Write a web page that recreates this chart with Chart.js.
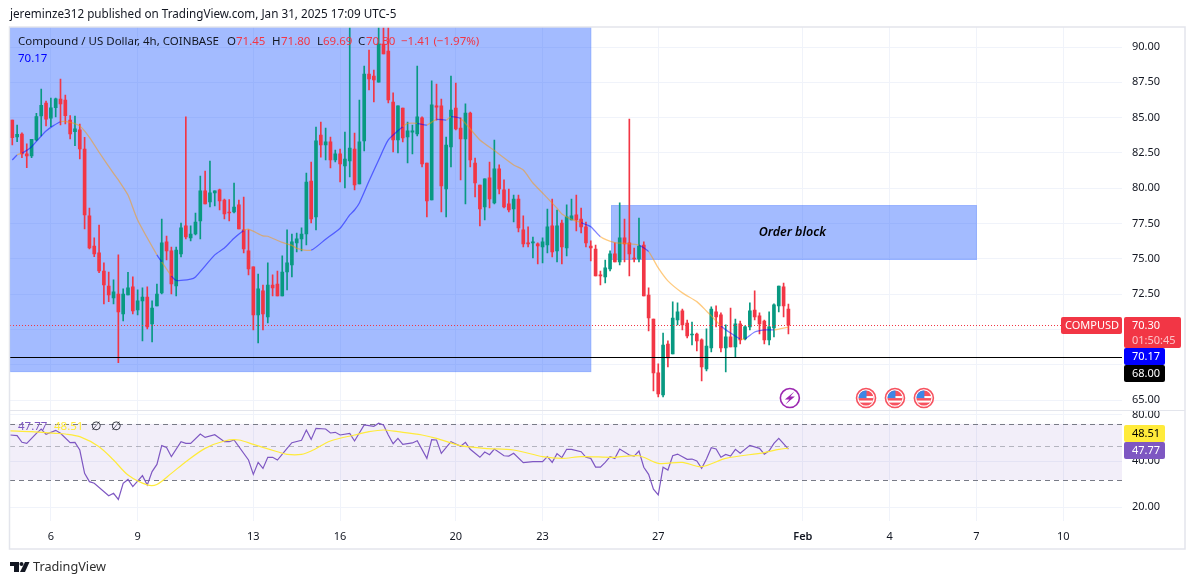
<!DOCTYPE html>
<html lang="en">
<head>
<meta charset="utf-8">
<title>COMPUSD</title>
<script src="https://cdn.jsdelivr.net/npm/chart.js"></script>
<style>
  html, body { margin: 0; padding: 0; background: #fff; }
  canvas { display: block; }
</style>
</head>
<body>
<canvas id="chart" width="1195" height="585"></canvas>
<script>
// 4h candles
const opens = [
  84.83,83.63,83.84,82.43,82.29,83.42,85.12,86.04,84.97,85.70,
  86.32,86.25,84.83,84.01,84.13,82.78,78.04,75.91,75.42,74.14,
  73.08,72.23,72.51,71.10,72.44,73.01,71.38,72.02,72.30,70.39,
  71.67,72.59,76.20,75.56,73.08,75.35,77.33,76.48,76.76,77.68,
  79.81,79.03,79.67,79.88,79.17,78.32,78.32,78.82,77.05,75.56,
  74.43,71.03,72.73,70.89,73.15,73.22,72.37,74.07,74.57,76.13,
  76.41,76.76,80.51,77.97,83.77,83.06,83.28,82.00,82.43,81.58,
  81.93,82.78,80.30,83.35,88.09,87.95,87.52,90.21,89.72,86.11,
  83.42,85.68,83.63,83.98,83.84,84.98,81.79,79.17,85.83,85.83,
  79.95,82.92,85.68,84.27,83.49,85.33,81.79,80.23,78.67,80.73,
  78.96,81.37,79.88,78.89,78.53,79.24,77.05,76.13,76.13,76.06,
  75.84,75.98,77.33,75.56,77.54,75.77,77.75,78.11,77.82,77.26,
  75.91,75.70,73.86,73.72,74.28,75.35,74.78,76.48,76.13,75.06,
  74.99,75.98,72.44,70.74,66.92,65.36,68.97,68.27,70.67,71.31,
  70.46,69.61,69.68,69.26,67.20,68.69,71.24,71.03,68.69,69.47,
  68.76,70.39,69.33,70.18,71.38,70.96,70.60,69.26,70.11,71.67,
  73.01,71.45
];
const closes = [
  83.58,83.82,82.43,82.29,83.47,85.07,85.87,84.90,85.70,86.34,
  85.97,85.14,83.84,84.20,82.78,78.11,75.77,75.35,74.14,73.15,
  72.44,72.66,71.24,72.51,72.94,71.31,72.02,72.30,70.18,71.52,
  72.51,76.13,75.56,73.22,75.63,77.19,76.55,76.76,77.61,79.81,
  78.89,79.67,79.81,79.10,78.18,78.25,78.67,77.12,75.70,74.28,
  71.03,72.87,71.10,73.15,72.94,72.37,74.07,74.71,76.20,76.41,
  76.76,80.44,77.82,83.35,83.06,83.28,82.00,82.43,81.72,82.07,
  82.85,80.23,83.28,88.09,87.74,87.67,90.21,89.51,86.25,83.42,
  85.83,83.56,84.06,84.06,85.05,81.72,79.10,85.90,85.75,80.16,
  83.06,85.54,84.20,83.49,85.33,82.00,80.37,78.53,80.66,79.24,
  81.37,79.95,78.67,78.46,79.24,77.19,76.06,76.06,76.20,75.91,
  76.20,77.26,75.49,77.33,75.84,77.97,78.04,77.75,77.26,76.13,
  75.77,73.79,73.79,74.36,75.35,74.78,76.48,76.06,75.35,74.99,
  75.91,72.37,70.81,66.92,65.43,68.90,67.98,70.81,71.24,70.32,
  69.54,69.68,69.19,67.35,68.83,71.45,70.89,68.69,69.47,68.76,
  70.39,69.26,70.18,71.31,70.89,70.39,69.26,70.18,71.74,73.08,
  71.67,70.30
];
const highs = [
  84.83,84.48,83.93,83.14,83.47,85.31,87.03,86.18,86.39,86.39,
  87.74,86.60,85.14,85.12,84.55,83.61,78.60,76.48,77.40,74.71,
  74.07,73.51,75.28,72.87,74.05,73.72,72.80,72.94,73.01,72.02,
  73.22,77.82,76.62,75.84,75.84,77.54,85.05,77.33,78.25,80.87,
  81.22,81.93,79.81,79.95,79.24,79.20,80.37,79.17,79.38,77.05,
  74.43,73.93,73.15,74.71,73.86,74.14,75.21,77.05,76.76,76.83,
  77.19,81.08,81.86,84.34,84.69,84.27,83.63,82.71,82.78,83.98,
  92,83.91,86.25,88.66,89.79,88.37,92,92,92,86.75,
  85.83,85.68,84.69,84.48,88.66,85.05,81.79,87.60,87.38,86.32,
  83.63,87.95,87.45,84.98,85.97,85.40,82.14,80.23,80.66,81.86,
  83.42,81.65,80.59,79.95,79.52,79.52,78.04,77.26,76.55,76.13,
  76.48,78.53,79.24,78.46,77.75,78.82,79.24,79.52,78.60,77.61,
  76.27,75.98,74.14,74.92,75.56,76.13,78.96,77.82,84.90,75.77,
  77.89,76.20,72.94,70.74,67.56,69.75,69.19,71.95,71.88,71.45,
  70.67,70.53,69.75,69.33,70.04,71.60,71.67,71.17,70.32,71.52,
  70.74,70.60,70.25,71.88,72.73,71.17,70.67,71.24,71.81,73.08,
  73.29,71.80
];
const lows = [
  83.06,83.30,82.17,81.46,82.17,83.35,83.70,84.41,84.36,85.05,
  84.48,84.55,83.49,83.01,82.07,77.12,75.70,75.16,74.02,71.81,
  71.97,71.81,67.65,70.60,72.44,71.10,71.03,69.19,70.04,69.12,
  71.67,72.51,74.92,72.51,72.37,75.13,76.41,76.27,76.69,76.41,
  78.89,78.67,78.74,78.46,77.82,77.68,78.25,77.12,75.42,73.86,
  69.97,69.05,69.97,70.46,72.37,72.37,72.37,72.80,73.72,75.49,
  75.56,75.98,77.54,77.05,82.21,82.00,81.44,81.86,80.44,80.02,
  80.80,79.88,80.30,82.64,86.96,86.11,87.52,89.51,86.04,82.57,
  82.50,83.28,81.79,82.43,83.70,81.51,77.97,79.17,84.83,78.32,
  77.97,81.51,84.13,80.59,78.89,81.51,79.38,77.33,77.75,78.60,
  78.89,79.60,78.60,78.32,77.61,76.90,75.84,75.84,75.06,74.64,
  74.71,75.42,75.13,74.78,74.64,75.21,77.75,76.97,76.83,75.84,
  74.85,73.79,73.15,73.29,74.14,74.78,74.57,74.78,73.79,74.78,
  74.78,72.37,69.90,65.65,65.22,65.22,67.35,68.27,70.32,69.97,
  69.40,68.90,68.48,66.36,67.06,68.41,70.18,68.41,67.00,68.76,
  68.05,68.97,69.26,69.97,70.67,69.68,68.97,68.90,69.47,71.24,
  70.89,69.69
];

// moving average: bar index, value, and which side of price it is on (b blue, o orange)
const maBars = [0,1,2,4,7,10,12,14,16,18,21,22,24,26,30,31,33,34,37,38,42,44,46,48,49,52,53,56,58,59,62,65,68,70,71,72,74,76,78,81,82,84,86,88,90,91,93,97,100,104,106,108,110,113,114,116,118,120,122,125,127,130,132,134,136,139,142,144,145,147,149,151,152,154,156,158,161];
const maValues = [82.00,82.36,82.48,82.94,84.06,84.71,84.67,84.41,83.61,82.55,81.06,80.59,79.52,77.75,75.28,74.78,73.79,73.47,73.56,73.72,75.28,75.77,76.46,77.00,77.10,76.62,76.60,76.16,75.96,75.75,75.61,76.39,77.17,78.11,78.46,78.96,80.51,82.00,83.42,84.36,84.59,84.60,84.48,84.88,84.83,85.07,84.94,83.42,82.67,81.65,81.29,80.37,79.66,78.58,78.18,77.80,77.56,77.28,76.57,76.15,76.10,75.98,75.51,74.36,73.44,72.59,71.97,71.31,70.96,70.25,69.75,69.33,69.33,69.82,69.97,69.97,70.17];
const maSides = "bobbbooooooooobobbbbbbbooooooobbbbbbbbbooboboboooooooooobbooobooooooobbobbbobb";

// RSI and its smoothing
const rsiBars = [-0.4,1,2,3,5,6,7,9,10,12,13,14,15,16,17,20,21,22,23,24,25,27,28,29,30,31,32,33,35,36,37,39,40,42,44,45,46,49,50,51,52,53,54,55,57,58,60,61,62,63,65,66,67,68,70,71,73,75,76,77,78,79,80,81,83,84,86,87,88,89,91,93,94,95,97,98,99,100,102,103,104,106,108,110,111,112,113,114,115,116,118,119,120,121,122,123,124,125,126,128,129,130,131,132,133,134,135,136,137,138,140,141,142,143,144,145,146,147,148,149,150,151,153,155,156,157,158,159,161];
const rsiValues = [59.2,58.6,53.0,52.2,60.7,64.8,59.8,63.5,60.7,52.7,53.0,47.2,33.2,29.3,28.6,23.7,24.6,22.4,28.6,30.3,27.2,32.1,27.9,34.1,38.0,50.4,49.1,42.7,53.5,52.2,52.2,60.1,57.1,59.5,53.5,53.5,54.9,40.6,32.7,39.2,35.8,42.3,42.3,40.6,48.4,52.7,54.6,63.8,55.4,65.4,64.8,61.0,61.6,59.2,60.7,54.1,68.8,67.4,70.6,68.8,59.2,51.9,56.3,51.4,52.5,54.3,41.6,55.2,54.9,44.9,53.5,49.9,53.0,47.7,42.3,45.8,44.0,47.9,43.3,43.1,44.9,39.0,39.6,39.6,42.7,39.2,44.7,42.1,47.7,47.7,46.0,42.3,41.6,36.5,36.5,39.2,42.7,41.6,47.9,43.8,43.1,46.5,36.4,32.7,26.2,24.0,36.4,34.9,43.3,44.4,41.0,41.2,40.0,35.8,41.2,48.9,47.9,42.3,44.2,43.1,47.7,44.9,50.6,48.4,44.4,46.7,52.2,56.3,47.77];
const rsiMaBars = [-0.4,4,9,11,14,18,21,24,28,30,33,36,40,44,47,50,55,57,60,62,66,71,74,77,80,85,88,93,98,104,110,114,118,125,130,134,139,143,148,156,159,161];
const rsiMaValues = [62.9,62.2,60.7,60.1,57.7,49.6,40.6,32.4,27.9,28.1,33.2,39.6,48.4,54.1,54.9,51.4,46.0,44.2,44.2,46.5,54.1,59.2,62.2,63.8,62.2,59.2,56.3,50.4,48.4,47.2,42.7,41.6,42.7,42.3,43.3,38.6,39.2,36.7,41.6,45.4,47.7,48.51];

// ticks
const priceTicks = [90,87.5,85,82.5,80,77.5,75,72.5,70,67.5,65];
const priceHidden = [70,67.5];   // sit behind the price tags
const rsiTicks = [80,40,20];
const timeBars = [8,26,50,68,92,110,134,164,182,200,218];
const timeLabels = ["6","9","13","16","20","23","27","Feb","4","7","10"];

// drawn zones and levels
const demandZone = {fromBar:-0.48, toBar:120.1, top:91.42, bottom:66.98};
const orderBlock = {fromBar:124.2, toBar:200.1, top:78.81, bottom:74.92, label:"Order block", labelBar:161.8};
const lastPrice = 70.30, supportLevel = 68.00, maLast = 70.17;
const rsiLast = 47.77, rsiMaLast = 48.51;
const rsiLevels = [70,50,30];
const boltBar = 161.3, flagBars = [177.1,183.1,189.1], eventPrice = 65.14;

const RED = "#f23645", GREEN = "#089981", INK = "#131722", GRID = "#f0f3fa", FONT = '"Noto Sans"';

function tag(ctx, x, y, w, h, bg, text, fg, pad) {
  ctx.fillStyle = bg;
  ctx.beginPath();
  ctx.roundRect(x, y, w, h, 2);
  ctx.fill();
  if (!text) return;
  ctx.fillStyle = fg;
  ctx.font = "11px " + FONT;
  ctx.textAlign = "left";
  ctx.textBaseline = "middle";
  ctx.fillText(text, x + (pad || 8), y + h / 2 + 0.5);
}

const overlay = {
  id: "overlay",
  beforeDatasetsDraw(chart) {
    const {ctx, chartArea: a, scales: {x, y, rsi}} = chart;
    ctx.save();
    // zones sit above the grid, under the candles
    for (const z of [demandZone, orderBlock]) {
      const l = x.getPixelForValue(z.fromBar), r = x.getPixelForValue(z.toBar);
      const t = y.getPixelForValue(z.top), b = y.getPixelForValue(z.bottom);
      ctx.fillStyle = "rgba(41,98,255,0.43)";
      ctx.fillRect(l, t, r - l, b - t);
      ctx.strokeStyle = "rgba(41,98,255,0.12)";
      ctx.strokeRect(l + 0.5, t + 0.5, r - l - 1, b - t - 1);
    }
    // rsi band
    ctx.fillStyle = "rgba(126,87,194,0.1)";
    const top = rsi.getPixelForValue(rsiLevels[0]), bot = rsi.getPixelForValue(rsiLevels[2]);
    ctx.fillRect(a.left, top, a.width, bot - top);
    rsiLevels.forEach((lv, i) => {
      const py = Math.round(rsi.getPixelForValue(lv)) + 0.5;
      ctx.strokeStyle = i === 1 ? "rgba(120,123,134,0.5)" : "#787b86";
      ctx.setLineDash([5, 4]);
      ctx.beginPath(); ctx.moveTo(a.left, py); ctx.lineTo(a.right, py); ctx.stroke();
    });
    ctx.restore();
  },
  afterDatasetsDraw(chart) {
    const {ctx, chartArea: a, scales: {x, y}} = chart;
    ctx.save();
    // last price and support level
    let py = Math.round(y.getPixelForValue(lastPrice)) + 0.5;
    ctx.strokeStyle = RED; ctx.lineWidth = 1; ctx.setLineDash([1, 2]);
    ctx.beginPath(); ctx.moveTo(a.left, py); ctx.lineTo(a.right, py); ctx.stroke();
    ctx.setLineDash([]);
    py = Math.round(y.getPixelForValue(supportLevel)) - 0.5;
    ctx.strokeStyle = "#000";
    ctx.beginPath(); ctx.moveTo(a.left, py); ctx.lineTo(a.right, py); ctx.stroke();

    // order block label
    ctx.fillStyle = "#000";
    ctx.font = "italic 600 12.5px " + FONT;
    ctx.textAlign = "center"; ctx.textBaseline = "middle";
    ctx.fillText(orderBlock.label, x.getPixelForValue(orderBlock.labelBar), y.getPixelForValue((orderBlock.top + orderBlock.bottom) / 2));

    // event markers
    const ey = y.getPixelForValue(eventPrice);
    const bx = x.getPixelForValue(boltBar);
    ctx.lineWidth = 1.6; ctx.strokeStyle = "#9c27b0"; ctx.fillStyle = "#fff";
    ctx.beginPath(); ctx.arc(bx, ey, 9.5, 0, Math.PI * 2); ctx.fill(); ctx.stroke();
    ctx.fillStyle = "#9c27b0";
    ctx.beginPath();
    ctx.moveTo(bx + 4.5, ey - 6.5); ctx.lineTo(bx - 5, ey + 1.5); ctx.lineTo(bx - 0.5, ey + 1.5);
    ctx.lineTo(bx - 4.5, ey + 6.5); ctx.lineTo(bx + 5, ey - 1.5); ctx.lineTo(bx + 0.5, ey - 1.5);
    ctx.closePath(); ctx.fill();
    for (const bar of flagBars) {
      const fx = x.getPixelForValue(bar);
      ctx.save();
      ctx.fillStyle = "#fff"; ctx.strokeStyle = "#f7525f"; ctx.lineWidth = 1.6;
      ctx.beginPath(); ctx.arc(fx, ey, 9.5, 0, Math.PI * 2); ctx.fill(); ctx.stroke();
      ctx.beginPath(); ctx.arc(fx, ey, 7.5, 0, Math.PI * 2); ctx.clip();
      ctx.fillStyle = "#f7525f";
      ctx.fillRect(fx - 8, ey - 8, 16, 16);
      ctx.fillStyle = "#fff";
      ctx.fillRect(fx - 8, ey - 2, 16, 2); ctx.fillRect(fx - 8, ey + 2.5, 16, 2);
      ctx.fillStyle = "#3d86e6";
      ctx.fillRect(fx - 8, ey - 8, 8.5, 8);
      ctx.restore();
    }

    // pane legends
    ctx.textAlign = "left"; ctx.textBaseline = "middle";
    const ohlc = [
      ["Compound / US Dollar, 4h, COINBASE", 18, INK], ["O", 227, INK], ["71.45", 236, RED],
      ["H", 272, INK], ["71.80", 281, RED], ["L", 317, INK], ["69.69", 323, RED],
      ["C", 358, INK], ["70.30", 366, RED], ["\u22121.41 (\u22121.97%)", 401, RED]
    ];
    ctx.font = "11.5px " + FONT;
    for (const [s, tx, c] of ohlc) { ctx.fillStyle = c; ctx.fillText(s, tx, 42); }
    ctx.fillStyle = "#0000ff"; ctx.fillText(maLast.toFixed(2), 18, 59);
    ctx.fillStyle = "#7e57c2"; ctx.fillText(rsiLast.toFixed(2), 18, 427);
    ctx.fillStyle = "#ffeb3b"; ctx.fillText(rsiMaLast.toFixed(2), 54, 427);
    ctx.fillStyle = INK; ctx.fillText("\u2205", 91, 427); ctx.fillText("\u2205", 111, 427);
    ctx.restore();
  },
  afterDraw(chart) {
    const {ctx} = chart;
    ctx.save();
    // frame and pane separator
    ctx.strokeStyle = "#e3e5ec"; ctx.lineWidth = 1.5;
    ctx.strokeRect(9.5, 27, 1175.5, 522);
    ctx.lineWidth = 1;
    ctx.beginPath(); ctx.moveTo(10, 410.5); ctx.lineTo(1185, 410.5); ctx.stroke();

    // price tags
    tag(ctx, 1061, 317, 61, 17, RED, "COMPUSD", "#fff", 4);
    tag(ctx, 1124, 317, 57, 31, RED);
    ctx.textBaseline = "middle"; ctx.textAlign = "left"; ctx.font = "11px " + FONT;
    ctx.fillStyle = "#fff"; ctx.fillText(lastPrice.toFixed(2), 1132, 325.5);
    ctx.fillStyle = "#fcc2c7"; ctx.fillText("01:50:45", 1132, 340.5);
    tag(ctx, 1124, 348, 41, 17, "#0000ff", maLast.toFixed(2), "#fff");
    tag(ctx, 1124, 365, 41, 17, "#000", supportLevel.toFixed(2), "#fff");
    tag(ctx, 1124, 425, 41, 17, "#ffeb3b", rsiMaLast.toFixed(2), "#000");
    tag(ctx, 1124, 442, 41, 17, "#7e57c2", rsiLast.toFixed(2), "#fff");

    // page header and footer
    ctx.fillStyle = INK; ctx.textAlign = "left"; ctx.textBaseline = "middle";
    ctx.font = "11.7px " + FONT;
    ctx.fillText("jereminze312 published on TradingView.com, Jan 31, 2025 17:09 UTC-5", 10, 15);
    ctx.font = "12.7px " + FONT;
    ctx.fillStyle = "#2e2e2e";
    ctx.fillText("TradingView", 33, 567.5);
    ctx.fillStyle = "#131722";
    ctx.fillRect(10, 562, 9, 4); ctx.fillRect(14, 562, 5, 10);
    ctx.beginPath(); ctx.arc(21.5, 564, 2, 0, Math.PI * 2); ctx.fill();
    ctx.beginPath(); ctx.moveTo(25, 562); ctx.lineTo(29.5, 562); ctx.lineTo(25, 572); ctx.lineTo(20, 572); ctx.closePath(); ctx.fill();
    ctx.restore();
  }
};

const axisFont = {family: FONT, size: 11};

new Chart(document.getElementById("chart"), {
  type: "bar",
  data: {
    datasets: [
      {
        label: "wicks",
        data: highs.map((h, i) => ({x: i, y: [lows[i], h]})),
        backgroundColor: closes.map((c, i) => c >= opens[i] ? GREEN : RED),
        barThickness: 1, grouped: false, yAxisID: "y", order: 3
      },
      {
        label: "bodies",
        data: opens.map((o, i) => ({x: i, y: [o, closes[i]]})),
        backgroundColor: closes.map((c, i) => c >= opens[i] ? GREEN : RED),
        barThickness: 3, grouped: false, minBarLength: 1, yAxisID: "y", order: 2
      },
      {
        type: "line", label: "MA",
        data: maBars.map((b, i) => ({x: b, y: maValues[i]})),
        borderWidth: 1.3, pointRadius: 0, tension: 0.2, yAxisID: "y", order: 1,
        segment: {borderColor: c => maSides[c.p0DataIndex] === "b" ? "rgba(0,0,255,0.5)" : "rgba(255,152,0,0.5)"}
      },
      {
        type: "line", label: "RSI",
        data: rsiBars.map((b, i) => ({x: b, y: rsiValues[i]})),
        borderColor: "#7e57c2", borderWidth: 1.2, pointRadius: 0, yAxisID: "rsi", order: 1
      },
      {
        type: "line", label: "RSI MA",
        data: rsiMaBars.map((b, i) => ({x: b, y: rsiMaValues[i]})),
        borderColor: "#ffeb3b", borderWidth: 1.2, pointRadius: 0, tension: 0.3, yAxisID: "rsi", order: 0
      }
    ]
  },
  options: {
    responsive: false,
    animation: false,
    layout: {padding: {left: 10, top: 27, right: 10, bottom: 36}},
    plugins: {legend: {display: false}, tooltip: {enabled: false}},
    scales: {
      x: {
        type: "linear", offset: false, min: -0.477, max: 230.2,
        afterBuildTicks: s => { s.ticks = timeBars.map(v => ({value: v})); },
        afterFit: s => { s.height = 28; },
        grid: {color: GRID, drawTicks: false, offset: false},
        border: {display: false},
        ticks: {
          autoSkip: false, maxRotation: 0, padding: 9, color: INK,
          font: c => c.tick && c.tick.value === 164 ? {family: FONT, size: 11, weight: "600"} : axisFont,
          callback: v => timeLabels[timeBars.indexOf(v)]
        }
      },
      y: {
        position: "right", stack: "panes", stackWeight: 383.5, min: 64.26, max: 91.42,
        afterBuildTicks: s => { s.ticks = priceTicks.map(v => ({value: v})); },
        afterFit: s => { s.width = 63; },
        grid: {color: GRID, drawTicks: false},
        border: {display: false},
        ticks: {
          padding: 10, color: INK, font: axisFont, autoSkip: false,
          callback: v => priceHidden.includes(v) ? "" : v.toFixed(2)
        }
      },
      rsi: {
        type: "logarithmic", position: "right", stack: "panes", stackWeight: 110.5, min: 16.2, max: 85.6,
        afterBuildTicks: s => { s.ticks = rsiTicks.map(v => ({value: v})); },
        afterFit: s => { s.width = 63; },
        grid: {color: GRID, drawTicks: false},
        border: {display: false},
        ticks: {padding: 10, color: INK, font: axisFont, autoSkip: false, callback: v => v.toFixed(2)}
      }
    }
  },
  plugins: [overlay]
});
</script>
</body>
</html>
